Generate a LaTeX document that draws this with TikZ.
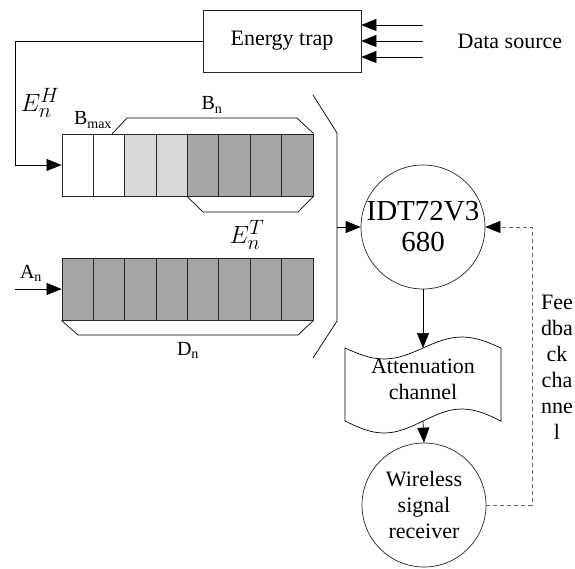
\documentclass[tikz,border=0pt]{standalone}
\usepackage{fontspec}
\setmainfont{Liberation Serif}
\usetikzlibrary{positioning,arrows.meta,calc}

\definecolor{darkcell}{HTML}{A6A6A6}
\definecolor{lightcell}{HTML}{D9D9D9}
\definecolor{edge}{HTML}{262626}

\tikzset{
  box/.style={draw=edge, minimum width=158pt, minimum height=62pt, font=\fontsize{22}{26}\selectfont},
  cell/.style={draw=edge, line width=0.9pt, minimum width=31.375pt, minimum height=62pt, inner sep=0pt},
  circ/.style={draw=edge, circle, minimum size=124pt, inner sep=-2pt, align=center},
  txt/.style={font=\fontsize{22}{26}\selectfont, align=center, inner sep=0pt},
  lbl/.style={font=\fontsize{20}{22}\selectfont, inner sep=0pt},
  sym/.style={font=\fontsize{32}{34}\selectfont, inner sep=0pt},
  headarrow/.style={-{Triangle[length=15pt,width=12pt,color=black]}},
  fb/.style={draw=black!60, dash pattern=on 4pt off 3pt},
}

\begin{document}
\begin{tikzpicture}[x=1pt, y=-1pt, line width=0.7pt]
\useasboundingbox (0,0) rectangle (575,568);

% energy trap and data source
\node[box] (trap) at (282,41) {Energy trap};
\node[txt, right = 96pt of trap] (src) {Data source};
\foreach \y/\n in {25/1,41/2,57/3}
  \coordinate (s\n) at (423,\y);
\foreach \n in {1,2,3}
  \draw[headarrow] (s\n) -- (s\n -| trap.east);

% energy buffer
\foreach \i/\c in {1/white,2/white,3/lightcell,4/lightcell,5/darkcell,6/darkcell,7/darkcell,8/darkcell}
  \node[cell, fill=\c] (t\i) at ({62+31.375*(\i-0.5)},165) {};
\coordinate (eh) at (15,165);
\draw[headarrow] (trap.west) -| (eh) -- (t1.west);
\node[sym] (ehlbl) at (40,103) {$E_n^H$};
\node[lbl] (bmax) at (93,120) {B\textsubscript{max}};
\node[lbl] (bn) at (212,105) {B\textsubscript{n}};
\draw (112,134) -- (127,118) -- (297,118) -- (t8.north east);
\draw (t5.south west) -- (203,212) -- (298,212) -- (t8.south east);
\node[sym] (etlbl) at (247,235) {$E_n^T$};

% data buffer
\foreach \i in {1,...,8}
  \node[cell, fill=darkcell] (d\i) at ({62+31.375*(\i-0.5)},289) {};
\coordinate (an) at (15,289);
\draw[headarrow] (an) -- (d1.west);
\node[lbl] (anlbl) at (31,273) {A\textsubscript{n}};
\draw (d1.south west) -- (78,335) -- (298,335) -- (d8.south east);
\node[lbl] (dn) at (188,350) {D\textsubscript{n}};

% scheduler
\draw (313,95) -- (337,133) -- (337,321) -- (313,358);
\coordinate (mux) at (337,227);
\node[circ, font=\fontsize{29}{31}\selectfont] (idt) at (423,227) {IDT72V3\\680};
\draw[headarrow] (mux) -- (idt.west);

% channel
\node[txt, below = 69pt of idt] (att) {Attenuation\\channel};
\coordinate (atttop) at (423,348);
\coordinate (attbot) at (423,421);
\draw (345,348) sin (384,359) cos (atttop) sin (462,337) cos (501,348)
  -- (501,421) sin (462,409) cos (attbot) sin (384,433) cos (345,421) -- cycle;
\draw[headarrow] (idt.south) -- (atttop);

% receiver
\node[circ, txt, draw=edge, inner sep=0pt, minimum size=124pt] (wrx) at (424,505) {Wireless\\signal\\receiver};
\draw[headarrow] (attbot) -- (wrx.north);

% feedback
\coordinate (fbc) at (532,227);
\draw[fb, headarrow] (wrx.east) -| (fbc) -- (idt.east);
\node[txt] (fblbl) at (557,367) {Fee\\dba\\ck\\cha\\nne\\l};
\end{tikzpicture}
\end{document}
